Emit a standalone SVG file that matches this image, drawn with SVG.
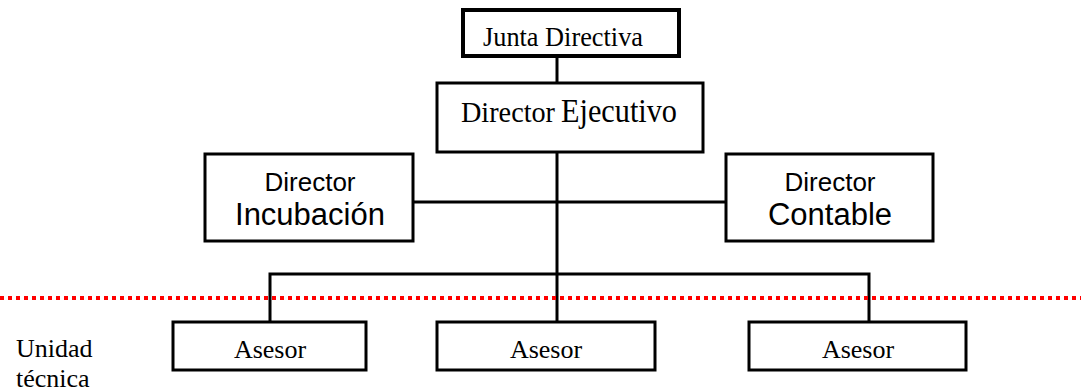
<svg xmlns="http://www.w3.org/2000/svg" width="1081" height="392" viewBox="0 0 1081 392">
  <style>
    .box { fill: #ffffff; stroke: #000000; stroke-width: 3; }
    .box-top { stroke-width: 4; }
    .link { fill: none; stroke: #000000; stroke-width: 3; }
    .serif { font-family: "Liberation Serif", "Times New Roman", serif; fill: #000000; }
    .sans { font-family: "Liberation Sans", Arial, sans-serif; fill: #000000; }
    .divider { fill: none; stroke: #ff0000; stroke-width: 4; stroke-dasharray: 4 4; }
  </style>

  <rect width="1081" height="392" fill="#ffffff"/>

  <!-- connectors -->
  <g id="connectors">
    <line class="link" x1="557" y1="57" x2="557" y2="83"/>
    <line class="link" x1="557" y1="152" x2="557" y2="274"/>
    <line class="link" x1="413" y1="202" x2="726" y2="202"/>
    <polyline class="link" points="270,322 270,274 869,274 869,322"/>
    <line class="link" x1="557" y1="274" x2="557" y2="322"/>
  </g>

  <!-- separator for the technical unit -->
  <line id="divider" class="divider" x1="0" y1="298" x2="1081" y2="298"/>

  <g id="junta">
    <rect class="box box-top" x="463" y="10" width="216" height="46"/>
    <text class="serif" x="483" y="46" font-size="28" textLength="160" lengthAdjust="spacingAndGlyphs">Junta Directiva</text>
  </g>

  <g id="director-ejecutivo">
    <rect class="box" x="437" y="83" width="266" height="69"/>
    <text class="serif" x="461" y="122" font-size="30" textLength="94" lengthAdjust="spacingAndGlyphs">Director</text>
    <text class="serif" x="561" y="122" font-size="34" textLength="116" lengthAdjust="spacingAndGlyphs">Ejecutivo</text>
  </g>

  <g id="director-incubacion">
    <rect class="box" x="205" y="154" width="208" height="87"/>
    <text class="sans" text-anchor="middle" x="310" y="191" font-size="26">Director</text>
    <text class="sans" text-anchor="middle" x="310" y="225" font-size="31">Incubación</text>
  </g>

  <g id="director-contable">
    <rect class="box" x="726" y="154" width="207" height="87"/>
    <text class="sans" text-anchor="middle" x="830" y="191" font-size="26">Director</text>
    <text class="sans" text-anchor="middle" x="830" y="225" font-size="31">Contable</text>
  </g>

  <g id="asesor-1">
    <rect class="box" x="173" y="322" width="193" height="48"/>
    <text class="serif" text-anchor="middle" x="270" y="358" font-size="26">Asesor</text>
  </g>

  <g id="asesor-2">
    <rect class="box" x="437" y="322" width="218" height="48"/>
    <text class="serif" text-anchor="middle" x="546" y="358" font-size="26">Asesor</text>
  </g>

  <g id="asesor-3">
    <rect class="box" x="749" y="322" width="217" height="48"/>
    <text class="serif" text-anchor="middle" x="858" y="358" font-size="26">Asesor</text>
  </g>

  <g id="unidad-tecnica">
    <text class="serif" x="16" y="357" font-size="26">Unidad</text>
    <text class="serif" x="16" y="387" font-size="26">técnica</text>
  </g>
</svg>
